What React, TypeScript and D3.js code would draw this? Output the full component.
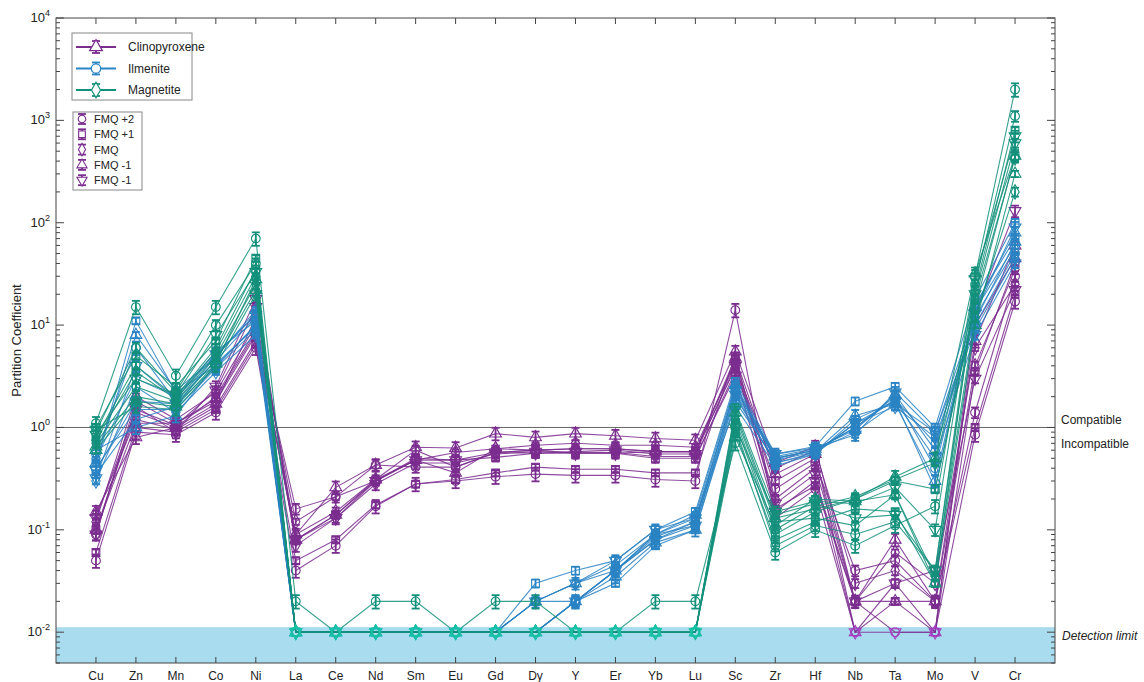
import React, { useEffect, useRef } from 'react'
import * as d3 from 'd3'

const elements = ['Cu', 'Zn', 'Mn', 'Co', 'Ni', 'La', 'Ce', 'Nd', 'Sm', 'Eu', 'Gd', 'Dy', 'Y', 'Er', 'Yb', 'Lu', 'Sc', 'Zr', 'Hf', 'Nb', 'Ta', 'Mo', 'V', 'Cr']

// clinopyroxene runs
const cpx1 = [0.05, 0.9, 0.85, 1.4, 6, 0.04, 0.07, 0.17, 0.28, 0.30, 0.33, 0.35, 0.34, 0.34, 0.31, 0.30, 14, 0.13, 0.25, 0.01, 0.01, 0.01, 0.85, 17]
const cpx2 = [0.06, 1.0, 0.9, 1.5, 6.5, 0.05, 0.08, 0.175, 0.28, 0.31, 0.36, 0.41, 0.39, 0.39, 0.36, 0.36, 5, 0.16, 0.27, 0.02, 0.02, 0.02, 1.0, 20]
const cpx3 = [0.09, 1.8, 1.1, 1.8, 8, 0.16, 0.21, 0.43, 0.41, 0.41, 0.57, 0.6, 0.62, 0.62, 0.58, 0.58, 4.5, 0.25, 0.45, 0.04, 0.05, 0.02, 1.4, 30]
const cpx4 = [0.1, 1.4, 1.0, 2.0, 9, 0.08, 0.14, 0.30, 0.5, 0.48, 0.51, 0.56, 0.56, 0.56, 0.5, 0.5, 3.5, 0.3, 0.5, 0.02, 0.03, 0.01, 3.5, 40]
const cpx5 = [0.12, 2.0, 1.2, 2.2, 10, 0.12, 0.21, 0.30, 0.48, 0.57, 0.62, 0.67, 0.70, 0.67, 0.67, 0.64, 4.2, 0.2, 0.4, 0.02, 0.06, 0.03, 6, 25]
const cpx6 = [0.14, 1.2, 0.95, 1.6, 7, 0.09, 0.15, 0.31, 0.6, 0.41, 0.57, 0.6, 0.56, 0.56, 0.58, 0.58, 3.8, 0.4, 0.6, 0.03, 0.04, 0.02, 4, 35]
const cpx7 = [0.15, 0.8, 1.0, 1.7, 12, 0.09, 0.26, 0.43, 0.64, 0.63, 0.87, 0.8, 0.87, 0.83, 0.78, 0.75, 5.5, 0.45, 0.65, 0.02, 0.08, 0.02, 7, 60]
const cpx8 = [0.1, 1.1, 1.1, 1.9, 8.5, 0.08, 0.14, 0.31, 0.48, 0.36, 0.62, 0.6, 0.62, 0.62, 0.58, 0.58, 4.8, 0.35, 0.55, 0.01, 0.02, 0.01, 10, 45]
const cpx9 = [0.13, 1.5, 1.05, 2.3, 15, 0.08, 0.13, 0.30, 0.48, 0.48, 0.57, 0.56, 0.58, 0.60, 0.55, 0.55, 4, 0.18, 0.35, 0.01, 0.03, 0.04, 3, 22]
const cpx10 = [0.09, 1.6, 0.9, 2.5, 18, 0.07, 0.13, 0.28, 0.45, 0.45, 0.55, 0.58, 0.57, 0.57, 0.52, 0.52, 3.2, 0.15, 0.3, 0.02, 0.01, 0.01, 13, 130]

// ilmenite runs
const ilm1 = [0.55, 6, 1.8, 4.5, 12, 0.01, 0.01, 0.01, 0.01, 0.01, 0.01, 0.01, 0.02, 0.04, 0.08, 0.12, 2.5, 0.5, 0.6, 1.0, 2.0, 0.4, 14, 60]
const ilm2 = [0.45, 11, 2.2, 4.0, 10, 0.01, 0.01, 0.01, 0.01, 0.01, 0.01, 0.02, 0.02, 0.03, 0.07, 0.1, 2.0, 0.45, 0.55, 1.2, 1.8, 0.25, 16, 70]
const ilm3 = [0.4, 1.5, 1.5, 3.8, 9, 0.01, 0.01, 0.01, 0.01, 0.01, 0.01, 0.01, 0.02, 0.04, 0.09, 0.11, 2.2, 0.5, 0.6, 0.9, 1.7, 0.9, 10, 50]
const ilm4 = [0.35, 1.2, 1.6, 5, 13, 0.01, 0.01, 0.01, 0.01, 0.01, 0.01, 0.03, 0.04, 0.05, 0.1, 0.15, 2.8, 0.55, 0.65, 1.8, 2.5, 1.0, 18, 100]
const ilm5 = [0.3, 2.5, 1.4, 3.5, 8, 0.01, 0.01, 0.01, 0.01, 0.01, 0.01, 0.02, 0.03, 0.045, 0.09, 0.13, 1.6, 0.42, 0.55, 1.1, 1.6, 0.8, 9, 45]
const ilm6 = [0.5, 3, 2.0, 5.5, 11, 0.01, 0.01, 0.01, 0.01, 0.01, 0.01, 0.01, 0.02, 0.04, 0.085, 0.12, 2.4, 0.5, 0.6, 1.0, 1.9, 0.7, 12, 55]
const ilm7 = [0.6, 1.0, 1.3, 4.2, 9.5, 0.01, 0.01, 0.01, 0.01, 0.01, 0.01, 0.01, 0.02, 0.035, 0.075, 0.1, 1.8, 0.48, 0.58, 1.3, 1.7, 0.3, 15, 80]
const ilm8 = [0.45, 8, 2.3, 4.8, 14, 0.01, 0.01, 0.01, 0.01, 0.01, 0.01, 0.02, 0.03, 0.04, 0.09, 0.14, 2.6, 0.52, 0.62, 0.95, 2.1, 0.6, 11, 65]
const ilm9 = [0.38, 1.8, 1.7, 3.9, 10, 0.01, 0.01, 0.01, 0.01, 0.01, 0.01, 0.01, 0.02, 0.04, 0.08, 0.11, 2.1, 0.45, 0.57, 1.1, 1.8, 0.5, 8, 40]
const ilm10 = [0.32, 4, 1.9, 5.2, 12.5, 0.01, 0.01, 0.01, 0.01, 0.01, 0.01, 0.02, 0.03, 0.05, 0.1, 0.13, 2.3, 0.55, 0.63, 0.85, 2.2, 0.9, 13, 90]

// magnetite runs
const mt1 = [1.1, 15, 3.2, 15, 70, 0.02, 0.01, 0.02, 0.02, 0.01, 0.02, 0.02, 0.01, 0.01, 0.02, 0.02, 0.7, 0.06, 0.1, 0.07, 0.11, 0.17, 30, 2000]
const mt2 = [1.0, 5, 2.5, 7, 45, 0.01, 0.01, 0.01, 0.01, 0.01, 0.01, 0.01, 0.01, 0.01, 0.01, 0.01, 0.9, 0.08, 0.12, 0.16, 0.15, 0.03, 22, 800]
const mt3 = [0.9, 6, 2.2, 10, 40, 0.01, 0.01, 0.01, 0.01, 0.01, 0.01, 0.01, 0.01, 0.01, 0.01, 0.01, 1.0, 0.07, 0.11, 0.09, 0.12, 0.04, 25, 1100]
const mt4 = [0.8, 4, 2.0, 6, 35, 0.01, 0.01, 0.01, 0.01, 0.01, 0.01, 0.01, 0.01, 0.01, 0.01, 0.01, 1.1, 0.09, 0.15, 0.2, 0.3, 0.25, 15, 450]
const mt5 = [0.75, 3.5, 1.9, 5.5, 30, 0.01, 0.01, 0.01, 0.01, 0.01, 0.01, 0.01, 0.01, 0.01, 0.01, 0.01, 1.2, 0.1, 0.17, 0.21, 0.31, 0.45, 18, 430]
const mt6 = [0.7, 2.5, 1.8, 5, 25, 0.01, 0.01, 0.01, 0.01, 0.01, 0.01, 0.01, 0.01, 0.01, 0.01, 0.01, 1.3, 0.12, 0.13, 0.11, 0.22, 0.035, 12, 200]
const mt7 = [0.65, 2, 1.7, 4.5, 22, 0.01, 0.01, 0.01, 0.01, 0.01, 0.01, 0.01, 0.01, 0.01, 0.01, 0.01, 1.4, 0.13, 0.16, 0.2, 0.33, 0.5, 32, 450]
const mt8 = [0.6, 1.8, 1.6, 4.2, 28, 0.01, 0.01, 0.01, 0.01, 0.01, 0.01, 0.01, 0.01, 0.01, 0.01, 0.01, 0.8, 0.11, 0.2, 0.19, 0.22, 0.03, 10, 300]
const mt9 = [0.85, 3, 2.1, 8, 33, 0.01, 0.01, 0.01, 0.01, 0.01, 0.01, 0.01, 0.01, 0.01, 0.01, 0.01, 1.0, 0.14, 0.18, 0.13, 0.14, 0.04, 20, 600]
const mt10 = [0.95, 1.6, 1.5, 4, 20, 0.01, 0.01, 0.01, 0.01, 0.01, 0.01, 0.01, 0.01, 0.01, 0.01, 0.01, 1.5, 0.15, 0.19, 0.18, 0.26, 0.1, 28, 700]

const fmqLabels = ['FMQ +2', 'FMQ +1', 'FMQ', 'FMQ -1', 'FMQ -1']
const fmqMarkers = ['circle', 'square', 'diamond', 'triangle', 'triangleDown']
const runMarkers = ['circle', 'square', 'circle', 'square', 'diamond', 'diamond', 'triangle', 'triangle', 'triangleDown', 'triangleDown']
const runErrors = [0.15, 0.07, 0.12, 0.09, 0.07, 0.1, 0.14, 0.07, 0.1, 0.13]

const minerals = [
  { name: 'Clinopyroxene', color: '#7B2D8F', marker: 'triangle', runs: [cpx1, cpx2, cpx3, cpx4, cpx5, cpx6, cpx7, cpx8, cpx9, cpx10] },
  { name: 'Ilmenite', color: '#2A83C3', marker: 'circle', runs: [ilm1, ilm2, ilm3, ilm4, ilm5, ilm6, ilm7, ilm8, ilm9, ilm10] },
  { name: 'Magnetite', color: '#13907B', marker: 'diamond', runs: [mt1, mt2, mt3, mt4, mt5, mt6, mt7, mt8, mt9, mt10] },
]

const yDecades = [-2, -1, 0, 1, 2, 3, 4]
const detectionLimit = 0.0112
const font = '"Liberation Sans", Arial, sans-serif'

function symbolPath(m: string, size: number) {
  const types: any = { circle: d3.symbolCircle, square: d3.symbolSquare, diamond: d3.symbolDiamond, triangle: d3.symbolTriangle, triangleDown: d3.symbolTriangle }
  return d3.symbol(types[m], size)()
}

export default function App() {
  const ref = useRef<SVGSVGElement>(null)

  useEffect(() => {
    const width = 1144, height = 682
    const left = 56, right = 1055, top = 18, bottom = 663
    const svg = d3.select(ref.current)
    svg.selectAll('*').remove()
    svg.attr('width', width).attr('height', height)

    const x = d3.scalePoint<string>().domain(elements).range([left, right]).padding(1)
    const y = d3.scaleLog().domain([0.005, 10000]).range([bottom, top])

    // detection limit band
    svg.append('rect')
      .attr('x', left).attr('y', y(detectionLimit))
      .attr('width', right - left).attr('height', bottom - y(detectionLimit))
      .attr('fill', '#A8DCEE')

    // compatible / incompatible line
    svg.append('line')
      .attr('x1', left).attr('x2', right).attr('y1', y(1)).attr('y2', y(1))
      .attr('stroke', '#666').attr('stroke-width', 1)

    const line = d3.line<number>().x((d, i) => x(elements[i])!).y(d => y(d))

    const marker = (g: any, m: string, cx: number, cy: number, color: string, size: number) => {
      g.append('path')
        .attr('d', symbolPath(m, size))
        .attr('transform', `translate(${cx},${cy})` + (m === 'triangleDown' ? ' rotate(180)' : ''))
        .attr('fill', 'none').attr('stroke', color).attr('stroke-width', 1.1)
    }
    const errBar = (g: any, cx: number, y0: number, y1: number, color: string) => {
      g.append('line').attr('x1', cx).attr('x2', cx).attr('y1', y0).attr('y2', y1)
        .attr('stroke', color).attr('stroke-width', 1.8)
      ;[y0, y1].forEach(yy => g.append('line').attr('x1', cx - 4).attr('x2', cx + 4).attr('y1', yy).attr('y2', yy)
        .attr('stroke', color).attr('stroke-width', 1.8))
    }

    minerals.forEach(mineral => {
      const g = svg.append('g')
      mineral.runs.forEach(run => {
        g.append('path').datum(run).attr('d', line)
          .attr('fill', 'none').attr('stroke', mineral.color).attr('stroke-width', 1.1).attr('opacity', 0.85)
      })
      mineral.runs.forEach((run, r) => {
        run.forEach((v, i) => {
          const cx = x(elements[i])!
          const light = v <= 0.01
          const c = light ? d3.color(mineral.color)!.brighter(0.8).formatHex() : mineral.color
          if (!light) {
            const e = runErrors[r]
            errBar(g, cx, y(v * (1 + e)), y(Math.max(v * (1 - e), 0.006)), mineral.color)
          }
          marker(g, runMarkers[r], cx, y(v), c, 60)
        })
      })
    })

    // frame
    svg.append('rect').attr('x', left).attr('y', top).attr('width', right - left).attr('height', bottom - top)
      .attr('fill', 'none').attr('stroke', '#444').attr('stroke-width', 1)

    // y ticks, left and right
    const ax = svg.append('g').attr('stroke', '#444').attr('stroke-width', 1)
    yDecades.forEach(p => {
      const v = Math.pow(10, p)
      ax.append('line').attr('x1', left).attr('x2', left + 8).attr('y1', y(v)).attr('y2', y(v))
      ax.append('line').attr('x1', right).attr('x2', right - 8).attr('y1', y(v)).attr('y2', y(v))
      for (let k = 2; k <= 9; k++) {
        const mv = k * v
        if (p === 4) continue
        ax.append('line').attr('x1', left).attr('x2', left + 4).attr('y1', y(mv)).attr('y2', y(mv))
        ax.append('line').attr('x1', right).attr('x2', right - 4).attr('y1', y(mv)).attr('y2', y(mv))
      }
      if (p === -2) {
        for (let k = 5; k <= 9; k++) {
          const mv = k * 0.001
          ax.append('line').attr('x1', left).attr('x2', left + 4).attr('y1', y(mv)).attr('y2', y(mv))
          ax.append('line').attr('x1', right).attr('x2', right - 4).attr('y1', y(mv)).attr('y2', y(mv))
        }
      }
      const t = svg.append('text').attr('x', 50).attr('y', y(v) + 4)
        .attr('text-anchor', 'end').attr('font-family', font).attr('font-size', 13).attr('fill', '#222')
      t.append('tspan').text('10')
      t.append('tspan').attr('dy', -6).attr('font-size', 9).text(String(p))
    })

    // x ticks top and bottom, labels
    elements.forEach(el => {
      const cx = x(el)!
      ax.append('line').attr('x1', cx).attr('x2', cx).attr('y1', bottom).attr('y2', bottom - 6)
      ax.append('line').attr('x1', cx).attr('x2', cx).attr('y1', top).attr('y2', top + 6)
      svg.append('text').attr('x', cx).attr('y', 680).attr('text-anchor', 'middle')
        .attr('font-family', font).attr('font-size', 12).attr('fill', '#222').text(el)
    })

    svg.append('text').attr('transform', `translate(21,${(top + bottom) / 2}) rotate(-90)`)
      .attr('text-anchor', 'middle').attr('font-family', font).attr('font-size', 13).attr('fill', '#222')
      .text('Partition Coefficient')

    svg.append('text').attr('x', 1061).attr('y', y(1) - 3).attr('font-family', font).attr('font-size', 12).attr('fill', '#222').text('Compatible')
    svg.append('text').attr('x', 1061).attr('y', y(1) + 21).attr('font-family', font).attr('font-size', 12).attr('fill', '#222').text('Incompatible')
    svg.append('text').attr('x', 1062).attr('y', y(0.01) + 8).attr('font-family', font).attr('font-size', 12)
      .attr('font-style', 'italic').attr('fill', '#222').text('Detection limit')

    // mineral legend
    const lg = svg.append('g')
    lg.append('rect').attr('x', 72).attr('y', 33).attr('width', 120).attr('height', 67)
      .attr('fill', '#fff').attr('stroke', '#888')
    minerals.forEach((m, i) => {
      const ly = 47 + i * 21.5
      lg.append('line').attr('x1', 76).attr('x2', 116).attr('y1', ly).attr('y2', ly)
        .attr('stroke', m.color).attr('stroke-width', 2)
      errBar(lg, 96, ly - 6, ly + 6, m.color)
      lg.append('path').attr('d', symbolPath(m.marker, 70)).attr('transform', `translate(96,${ly})`)
        .attr('fill', '#fff').attr('stroke', m.color).attr('stroke-width', 1.2)
      lg.append('text').attr('x', 128).attr('y', ly + 4).attr('font-family', font).attr('font-size', 12)
        .attr('fill', '#222').text(m.name)
    })

    // FMQ legend
    const fg = svg.append('g')
    fg.append('rect').attr('x', 73).attr('y', 112).attr('width', 69).attr('height', 78)
      .attr('fill', '#fff').attr('stroke', '#888')
    fmqLabels.forEach((lab, i) => {
      const ly = 119 + i * 15.3
      const c = minerals[0].color
      errBar(fg, 82, ly - 5, ly + 5, c)
      fg.append('path').attr('d', symbolPath(fmqMarkers[i], 45))
        .attr('transform', `translate(82,${ly})` + (fmqMarkers[i] === 'triangleDown' ? ' rotate(180)' : ''))
        .attr('fill', '#fff').attr('stroke', c).attr('stroke-width', 1.1)
      fg.append('text').attr('x', 94).attr('y', ly + 4).attr('font-family', font).attr('font-size', 11)
        .attr('fill', '#222').text(lab)
    })
  }, [])

  return <svg ref={ref} style={{ position: 'absolute', left: 0, top: 0, background: '#fff' }} />
}
